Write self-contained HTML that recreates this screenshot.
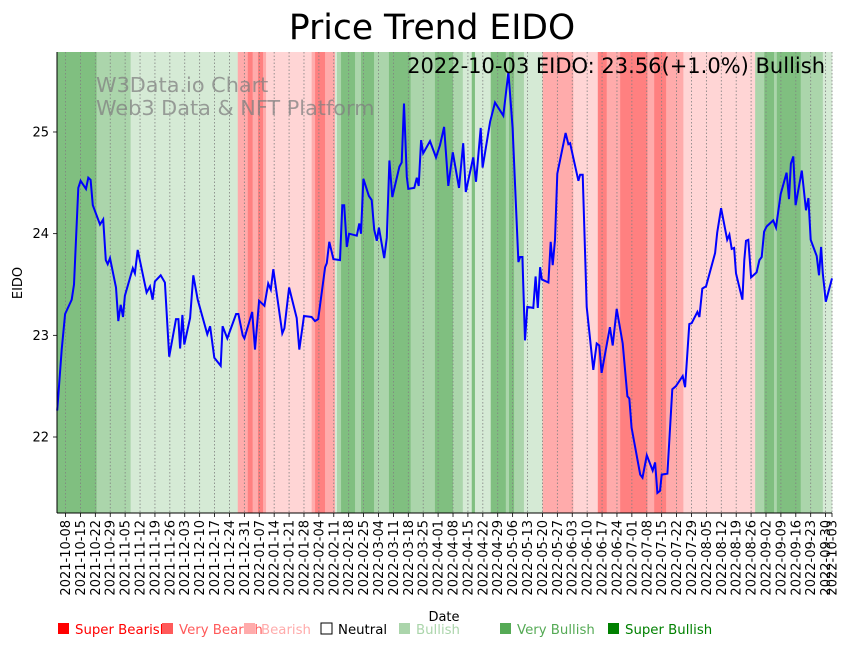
<!DOCTYPE html>
<html><head><meta charset="utf-8"><style>
body{margin:0;background:#fff;}
svg{display:block;font-family:"DejaVu Sans","Liberation Sans",sans-serif;}
</style></head><body>
<svg id="chart" width="851" height="646" viewBox="0 0 851 646" xmlns="http://www.w3.org/2000/svg">
<g id="bands"></g>
<g id="grid"></g>
<text x="96" y="92" font-size="20.8" fill="#808080" fill-opacity="0.75">W3Data.io Chart</text>
<text x="96" y="115" font-size="20.8" fill="#808080" fill-opacity="0.75">Web3 Data &amp; NFT Platform</text>
<path id="line" fill="none" stroke="#0000ff" stroke-width="2"/>
<text x="825" y="73" font-size="21" text-anchor="end" fill="#000">2022-10-03 EIDO: 23.56(+1.0%) Bullish</text>
<g id="axes"></g>
<text x="432" y="39" font-size="34.5" text-anchor="middle" fill="#000">Price Trend EIDO</text>
<text transform="translate(22,283) rotate(-90)" font-size="13" text-anchor="middle">EIDO</text>
<text x="444" y="621" font-size="13" text-anchor="middle">Date</text>
<g id="legend"></g>
</svg>
<script>
const days = [0.1,2.2,3.8,6.9,8.0,10.0,11.1,13.6,14.7,15.8,16.8,20.2,21.7,22.9,23.8,24.9,27.7,28.8,29.9,31.0,31.9,35.6,36.6,37.9,42.1,43.7,44.9,46.0,48.7,50.7,52.7,55.9,57.0,57.8,58.9,59.8,62.5,64.0,66.1,70.6,71.9,73.9,76.9,77.8,80.0,84.1,85.2,87.2,88.0,91.7,93.0,94.9,97.4,99.2,100.4,101.6,105.8,106.8,109.0,112.6,113.8,116.0,119.6,121.2,122.7,125.9,126.7,127.9,129.8,132.9,134.0,134.9,136.1,137.2,140.8,142.0,142.8,143.9,146.5,147.8,149.0,150.2,151.2,153.7,154.9,156.1,157.5,160.8,161.9,163.0,164.3,165.0,167.8,169.0,169.9,171.0,172.0,175.2,178.0,179.9,181.8,183.8,185.9,188.8,190.8,192.0,195.5,196.8,199.0,199.9,203.4,205.7,209.6,212.0,214.0,216.7,217.5,218.6,219.8,220.9,223.7,224.8,225.8,226.9,227.7,230.8,231.9,232.8,233.9,235.0,238.9,240.2,241.0,244.9,245.7,246.9,248.8,251.9,253.5,254.7,255.8,259.7,261.0,262.9,265.7,267.9,268.8,269.9,273.9,275.0,277.0,279.8,280.9,282.0,283.2,284.0,286.7,289.0,290.7,293.9,295.0,297.0,298.1,300.8,301.7,303.1,303.9,304.8,309.1,310.1,311.9,314.8,315.8,316.9,318.0,318.9,321.9,322.8,323.6,324.7,326.0,328.6,329.9,331.0,332.1,333.3,336.4,337.7,339.9,342.7,343.8,344.7,345.8,346.9,349.8,351.8,352.9,354.0,356.8,357.9,358.9,359.7,361.1,364.0];
const prices = [22.26,22.86,23.21,23.35,23.5,24.45,24.52,24.44,24.55,24.53,24.28,24.09,24.14,23.74,23.70,23.76,23.47,23.14,23.30,23.18,23.39,23.66,23.61,23.84,23.42,23.48,23.35,23.53,23.59,23.52,22.79,23.16,23.16,22.87,23.20,22.91,23.17,23.59,23.35,23.01,23.09,22.78,22.70,23.09,22.97,23.21,23.21,23.00,22.97,23.23,22.86,23.34,23.29,23.51,23.45,23.65,23.02,23.07,23.47,23.17,22.86,23.19,23.18,23.14,23.16,23.67,23.71,23.92,23.75,23.74,24.28,24.28,23.87,24.00,23.98,24.10,24.00,24.54,24.37,24.33,24.04,23.93,24.06,23.76,23.96,24.72,24.36,24.66,24.70,25.28,24.56,24.44,24.45,24.55,24.47,24.92,24.79,24.91,24.75,24.87,25.05,24.47,24.80,24.45,24.89,24.41,24.75,24.51,25.04,24.65,25.10,25.29,25.16,25.59,25.04,23.72,23.77,23.77,22.95,23.28,23.27,23.58,23.27,23.67,23.55,23.52,23.92,23.69,23.94,24.59,24.99,24.88,24.89,24.52,24.58,24.58,23.28,22.66,22.92,22.90,22.63,23.08,22.90,23.26,22.92,22.40,22.38,22.09,21.63,21.60,21.82,21.67,21.75,21.45,21.47,21.63,21.64,22.47,22.50,22.60,22.49,23.11,23.12,23.23,23.18,23.46,23.47,23.48,23.81,24.01,24.25,23.94,23.99,23.85,23.86,23.61,23.35,23.74,23.93,23.94,23.57,23.62,23.74,23.77,24.02,24.07,24.13,24.06,24.39,24.60,24.34,24.69,24.76,24.28,24.62,24.23,24.35,23.94,23.78,23.59,23.87,23.61,23.33,23.56];
const bandStart = [0,18.6,34.6,84.9,89.6,91.9,94.4,96.8,98.2,119.6,121.2,125.9,130.6,131.5,133.4,140,142.8,148.9,155.9,166.1,177.5,186,190.6,194.8,196.3,203.7,210.8,212.3,214.7,219.3,228.1,242.5,254,258.2,264.5,277.3,280.5,286.1,294.2,327.9,332.2,336.8,338.1,349.3,359.7];
const bandEnd = [18.6,34.6,84.9,89.6,91.9,94.4,96.8,98.2,119.6,121.2,125.9,130.6,131.5,133.4,140,142.8,148.9,155.9,166.1,177.5,186,190.6,194.8,196.3,203.7,210.8,212.3,214.7,219.3,228.1,242.5,254,258.2,264.5,277.3,280.5,286.1,294.2,327.9,332.2,336.8,338.1,349.3,359.7,364];
const bandLevel = [3,2,1,-2,-3,-2,-3,-2,-1,-2,-3,-2,1,2,3,2,3,2,3,2,3,2,1,3,1,3,2,3,2,1,-2,-1,-3,-2,-3,-2,-3,-2,-1,2,3,2,3,2,1];
const yTicks = [22,23,24,25];
const legendLabels = ["Super Bearish","Very Bearish","Bearish","Neutral","Bullish","Very Bullish","Super Bullish"];
const legendColors = ["#ff0000","#ff5a5a","#ffabab","#ffffff","#abd5ab","#55aa55","#008000"];
const legendTextColors = ["#ff0000","#ff5a5a","#ffabab","#000000","#abd5ab","#55aa55","#008000"];
const legendX = [58,162,244,321,399,500,608];

const NS="http://www.w3.org/2000/svg";
const L=57,R=832,T=52,B=513;
const D0=0,D1=364;
const xS=d=>L+(d-D0)/(D1-D0)*(R-L);
const yS=v=>437-(v-22)*101.67;
const bandColor={"3":"#80bf80","2":"#abd5ab","1":"#d5ead5","-1":"#ffd5d5","-2":"#ffabab","-3":"#ff8080"};
function mk(tag,attrs,parent){const e=document.createElementNS(NS,tag);for(const k in attrs)e.setAttribute(k,attrs[k]);parent.appendChild(e);return e;}

const bands=document.getElementById('bands');
for(let i=0;i<bandStart.length;i++){
  const r=mk('rect',{x:xS(bandStart[i]),y:T,width:xS(bandEnd[i])-xS(bandStart[i])+0.3,height:B-T,fill:bandColor[String(bandLevel[i])]},bands);
  
  
}

const base=new Date(Date.UTC(2021,9,4));
const tickDays=[];for(let d=4;d<=361;d+=7)tickDays.push(d);tickDays.push(364);
const fmt=d=>{const t=new Date(base.getTime()+d*86400000);return t.toISOString().slice(0,10);};
const grid=document.getElementById('grid');
const axes=document.getElementById('axes');
tickDays.forEach(d=>{
  const x=xS(d);
  const g=mk('line',{x1:x,x2:x,y1:T,y2:B,stroke:"#808080","stroke-width":0.8,"stroke-dasharray":"1.5,2"},grid);
  
  
  const t=mk('line',{x1:x,x2:x,y1:B,y2:B+4,stroke:"#000","stroke-width":0.8},axes);
  
  
  const lb=mk('text',{transform:`translate(${x+4.5},${B+7}) rotate(-90)`,"font-size":"13","text-anchor":"end"},axes);
  lb.textContent=fmt(d);
  
  
});
yTicks.forEach(v=>{
  const y=yS(v);
  const t=mk('line',{x1:L-4,x2:L,y1:y,y2:y,stroke:"#000","stroke-width":0.8},axes);
  
  
  const lb=mk('text',{x:L-8,y:y+4.5,"font-size":"13","text-anchor":"end"},axes);
  lb.textContent=String(v);
  
  
});
const ly=mk('line',{x1:L,x2:L,y1:T,y2:B,stroke:"#000","stroke-width":1},axes);


const lx=mk('line',{x1:L,x2:R,y1:B,y2:B,stroke:"#000","stroke-width":1},axes);



let p='';
for(let i=0;i<days.length;i++){p+=(i?'L':'M')+xS(days[i]).toFixed(1)+','+yS(prices[i]).toFixed(1);}
document.getElementById('line').setAttribute('d',p);

const lg=document.getElementById('legend');
legendLabels.forEach((lab,i)=>{
  const r=mk('rect',{x:legendX[i],y:623,width:11,height:11,fill:legendColors[i],stroke:i===3?"#000":"none","stroke-width":1},lg);
  
  
  const t=mk('text',{x:legendX[i]+17,y:634,"font-size":"13.3",fill:legendTextColors[i]},lg);
  t.textContent=lab;
  
  
});
</script>
</body></html>
